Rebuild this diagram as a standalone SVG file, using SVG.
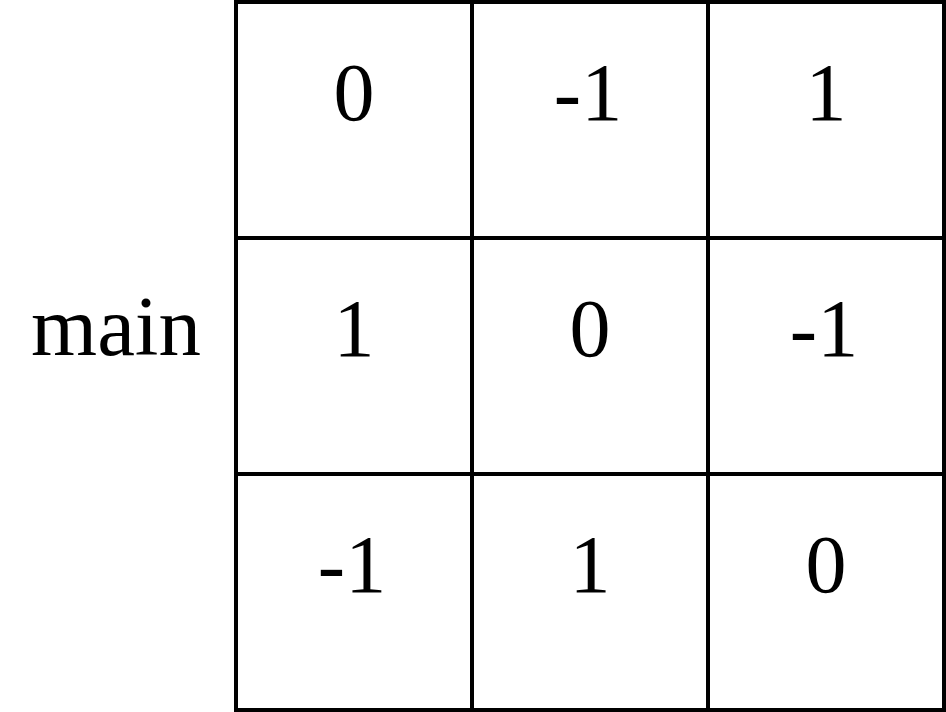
<svg xmlns="http://www.w3.org/2000/svg" width="946" height="712" viewBox="0 0 946 712">
<style>
.cell{fill:#fff;stroke:#000;stroke-width:4}
text{font-family:"Liberation Serif","DejaVu Serif",serif;font-size:82px;fill:#000;text-anchor:middle}
</style>
<rect x="0" y="0" width="946" height="712" fill="#fff"/>
<g id="label-main"><text x="116" y="355" style="font-size:84px" textLength="170" lengthAdjust="spacingAndGlyphs">main</text></g>
<g id="r1c1"><rect class="cell" x="236" y="2" width="236" height="236"/><text x="354" y="120">0</text></g>
<g id="r1c2"><rect class="cell" x="472" y="2" width="236" height="236"/><text x="588" y="120">-1</text></g>
<g id="r1c3"><rect class="cell" x="708" y="2" width="236" height="236"/><text x="826" y="120">1</text></g>
<g id="r2c1"><rect class="cell" x="236" y="238" width="236" height="236"/><text x="354" y="356">1</text></g>
<g id="r2c2"><rect class="cell" x="472" y="238" width="236" height="236"/><text x="590" y="356">0</text></g>
<g id="r2c3"><rect class="cell" x="708" y="238" width="236" height="236"/><text x="824" y="356">-1</text></g>
<g id="r3c1"><rect class="cell" x="236" y="474" width="236" height="236"/><text x="352" y="592">-1</text></g>
<g id="r3c2"><rect class="cell" x="472" y="474" width="236" height="236"/><text x="590" y="592">1</text></g>
<g id="r3c3"><rect class="cell" x="708" y="474" width="236" height="236"/><text x="826" y="592">0</text></g>
<g id="connectors"></g>
</svg>
